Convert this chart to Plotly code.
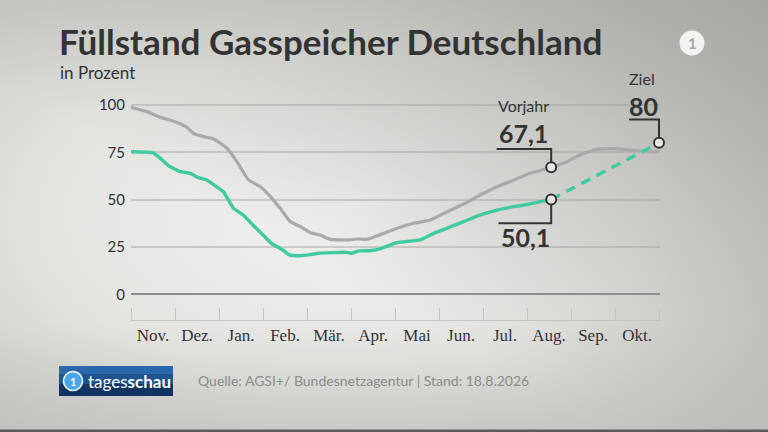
import base64
import plotly.graph_objects as go

# ---------------- data ----------------
months = ["Nov.", "Dez.", "Jan.", "Feb.", "Mär.", "Apr.", "Mai", "Jun.", "Jul.", "Aug.", "Sep.", "Okt."]
y_ticks = [0, 25, 50, 75, 100]

# x in months since 1 Nov
vorjahr_x = [0, 0.36, 0.67, 1.0, 1.27, 1.42, 1.65, 1.84, 2.0, 2.22, 2.41, 2.67, 2.94, 3.17, 3.39, 3.62,
             3.85, 4.08, 4.3, 4.53, 4.91, 5.14, 5.36, 5.67, 6.05, 6.42, 6.8, 7.18, 7.56, 7.94, 8.32,
             8.7, 9.07, 9.55, 9.91, 10.2, 10.59, 10.97, 11.35, 11.73, 12.0]
vorjahr_y = [98.8, 96.5, 93.5, 91.2, 88.2, 85.0, 83.3, 82.4, 80.3, 76.2, 70.0, 60.4, 56.8, 51.6, 45.4, 38.4,
             35.7, 32.5, 31.3, 29.0, 28.7, 29.2, 29.0, 31.5, 34.9, 37.5, 39.2, 43.6, 47.7, 52.5, 56.8,
             60.4, 63.9, 67.1, 70.0, 73.6, 76.6, 76.9, 76.2, 75.3, 75.2]

aktuell_x = [0, 0.49, 0.67, 0.86, 1.12, 1.35, 1.53, 1.72, 1.95, 2.1, 2.33, 2.55, 2.77, 3.0, 3.19, 3.45,
             3.6, 3.83, 4.05, 4.27, 4.58, 4.88, 5.0, 5.18, 5.41, 5.64, 6.05, 6.57, 6.88, 7.18, 7.56,
             7.94, 8.32, 8.7, 9.07, 9.55]
aktuell_y = [75.3, 74.8, 71.8, 67.8, 64.8, 63.9, 61.6, 60.4, 56.8, 54.2, 45.4, 41.9, 36.6, 31.3, 26.9, 23.4,
             20.8, 20.4, 20.8, 21.7, 22.0, 22.2, 21.7, 22.9, 23.0, 23.9, 27.3, 28.7, 32.2, 34.9, 38.4,
             41.9, 44.5, 46.3, 47.7, 50.1]

stand_x = 9.55          # 18.8.
vorjahr_stand = 67.1
aktuell_stand = 50.1
ziel_x = 12.0           # 1.11.
ziel_value = 80

# ---------------- layout geometry ----------------
W, H = 768, 432
L, R, T, B = 131, 108, 100, 112
PW, PH = W - L - R, H - T - B


def px(x):
    return (x - L) / PW


def py(y):
    return (H - B - y) / PH


def de(v):
    return f"{v:.1f}".replace(".", ",") if v % 1 else f"{int(v)}"


DARK = "#333333"
GREEN = "#3fcaa2"
GREY = "#a9a9a7"
SANS = "Lato"

# background gradient (SVG data URI)
svg = f"""<svg xmlns='http://www.w3.org/2000/svg' width='{W}' height='{H}'>
<defs>
<radialGradient id='g' cx='0.45' cy='0.5' r='0.7'>
<stop offset='0' stop-color='#f1f1ef'/>
<stop offset='0.55' stop-color='#e4e4e1'/>
<stop offset='1' stop-color='#c6c6c2'/>
</radialGradient>
<linearGradient id='t' x1='1' y1='0' x2='0.4' y2='0.6'>
<stop offset='0' stop-color='#a2a29e' stop-opacity='0.85'/>
<stop offset='1' stop-color='#a2a29e' stop-opacity='0'/>
</linearGradient>
<linearGradient id='b' x1='0' y1='1' x2='0' y2='0.75'>
<stop offset='0' stop-color='#b9b9b5' stop-opacity='0.5'/>
<stop offset='1' stop-color='#b9b9b5' stop-opacity='0'/>
</linearGradient>
</defs>
<rect width='{W}' height='{H}' fill='url(#g)'/>
<rect width='{W}' height='{H}' fill='url(#t)'/>
<rect width='{W}' height='{H}' fill='url(#b)'/>
</svg>"""
bg_uri = "data:image/svg+xml;base64," + base64.b64encode(svg.encode()).decode()

fig = go.Figure()

fig.add_trace(go.Scatter(x=vorjahr_x, y=vorjahr_y, mode="lines",
                         line=dict(color=GREY, width=3.2, shape="spline", smoothing=0.4),
                         hoverinfo="skip"))
fig.add_trace(go.Scatter(x=aktuell_x, y=aktuell_y, mode="lines",
                         line=dict(color=GREEN, width=3.4, shape="spline", smoothing=0.4),
                         hoverinfo="skip"))
fig.add_trace(go.Scatter(x=[stand_x, ziel_x], y=[aktuell_stand, ziel_value], mode="lines",
                         line=dict(color=GREEN, width=3.4, dash="10px,7px"),
                         hoverinfo="skip"))

# leader lines (offsets in data units)
leaders = [
    ([stand_x, stand_x, stand_x - 1.24], [vorjahr_stand, vorjahr_stand + 9.6, vorjahr_stand + 9.6]),
    ([stand_x, stand_x, stand_x - 1.2], [aktuell_stand, aktuell_stand - 12.6, aktuell_stand - 12.6]),
    ([ziel_x, ziel_x, ziel_x - 0.68], [ziel_value, ziel_value + 12.4, ziel_value + 12.4]),
]
for lx, ly in leaders:
    fig.add_trace(go.Scatter(x=lx, y=ly, mode="lines", line=dict(color=DARK, width=2),
                             hoverinfo="skip"))

fig.add_trace(go.Scatter(x=[stand_x, stand_x, ziel_x], y=[vorjahr_stand, aktuell_stand, ziel_value],
                         mode="markers", cliponaxis=False,
                         marker=dict(size=10, color="#e6e6e3", line=dict(color=DARK, width=2)),
                         hoverinfo="skip"))

annotations = [
    dict(text="<b>Füllstand Gasspeicher Deutschland</b>", x=px(57), y=py(41), xanchor="left",
         yanchor="middle", font=dict(family=SANS, size=35, color=DARK)),
    dict(text="in Prozent", x=px(58), y=py(72), xanchor="left", yanchor="middle",
         font=dict(family=SANS, size=17, color=DARK)),
    dict(text="Vorjahr", x=px(523), y=py(105), xanchor="center", yanchor="middle",
         font=dict(family=SANS, size=16, color=DARK)),
    dict(text=f"<b>{de(vorjahr_stand)}</b>", x=px(523), y=py(132.5), xanchor="center", yanchor="middle",
         font=dict(family=SANS, size=25, color=DARK)),
    dict(text=f"<b>{de(aktuell_stand)}</b>", x=px(525), y=py(237), xanchor="center", yanchor="middle",
         font=dict(family=SANS, size=25, color=DARK)),
    dict(text="Ziel", x=px(642), y=py(78.5), xanchor="center", yanchor="middle",
         font=dict(family=SANS, size=16, color=DARK)),
    dict(text=f"<b>{de(ziel_value)}</b>", x=px(643), y=py(105.5), xanchor="center", yanchor="middle",
         font=dict(family=SANS, size=25, color=DARK)),
    dict(text="Quelle: AGSI+/ Bundesnetzagentur | Stand: 18.8.2026", x=px(196), y=py(380),
         xanchor="left", yanchor="middle", font=dict(family=SANS, size=14, color="#8c8c8a")),
    dict(text="tages<b>schau</b>", x=px(86), y=py(381), xanchor="left", yanchor="middle",
         font=dict(family=SANS, size=17, color="white")),
    dict(text="<b>1</b>", x=px(73), y=py(381), xanchor="center", yanchor="middle",
         font=dict(family=SANS, size=11, color="white")),
    dict(text="<b>1</b>", x=px(692), y=py(43), xanchor="center", yanchor="middle",
         font=dict(family=SANS, size=15, color="#a6a6a3")),
]
for a in annotations:
    a.update(xref="paper", yref="paper", showarrow=False)

shapes = [
    # tagesschau badge
    dict(type="rect", x0=px(59), x1=px(173), y0=py(396), y1=py(366),
         fillcolor="#123463", line=dict(width=0)),
    dict(type="rect", x0=px(59), x1=px(173), y0=py(384), y1=py(366),
         fillcolor="#1f548f", line=dict(width=0)),
    dict(type="rect", x0=px(59), x1=px(173), y0=py(374), y1=py(366),
         fillcolor="#2a68ab", line=dict(width=0)),
    dict(type="circle", x0=px(63.5), x1=px(82.5), y0=py(390.5), y1=py(371.5),
         fillcolor="#4aa6e4", line=dict(color="white", width=1.5)),
    # ARD logo
    dict(type="circle", x0=px(679.5), x1=px(704.5), y0=py(55.5), y1=py(30.5),
         fillcolor="rgba(255,255,255,0.85)", line=dict(width=0)),
    # bottom strip
    dict(type="rect", x0=px(0), x1=px(W), y0=py(H), y1=py(429.5),
         fillcolor="#5c5c5a", line=dict(width=0)),
]
for s in shapes:
    s.update(xref="paper", yref="paper", layer="above")

fig.update_layout(
    width=W, height=H, autosize=False,
    margin=dict(l=L, r=R, t=T, b=B, pad=0),
    paper_bgcolor="#e2e2df", plot_bgcolor="rgba(0,0,0,0)",
    showlegend=False,
    annotations=annotations,
    shapes=shapes,
    images=[dict(source=bg_uri, xref="paper", yref="paper", x=px(0), y=py(0),
                 sizex=W / PW, sizey=H / PH, xanchor="left", yanchor="top",
                 sizing="stretch", layer="below")],
    xaxis=dict(range=[0, PW / 44.0], tickvals=[i + 0.5 for i in range(12)], ticktext=months,
               ticks="", showgrid=False, zeroline=False, showline=True, linecolor="#c4c4c1",
               linewidth=1, fixedrange=True,
               tickfont=dict(family="Liberation Serif", size=17, color=DARK),
               minor=dict(tickvals=list(range(13)), ticks="inside", ticklen=12,
                          tickcolor="#c4c4c1", tickwidth=1, showgrid=False)),
    yaxis=dict(range=[-13.58, 102.64], tickvals=y_ticks, ticks="", showgrid=True,
               gridcolor="rgba(160,160,158,0.45)", gridwidth=1.5, ticklabelstandoff=5,
               zeroline=True, zerolinecolor="#8e8e8c", zerolinewidth=2, showline=False,
               fixedrange=True, tickfont=dict(family=SANS, size=15, color=DARK)),
)

fig.write_html("out.html", config={"displayModeBar": False},
               post_script="document.body.style.margin='0';")
